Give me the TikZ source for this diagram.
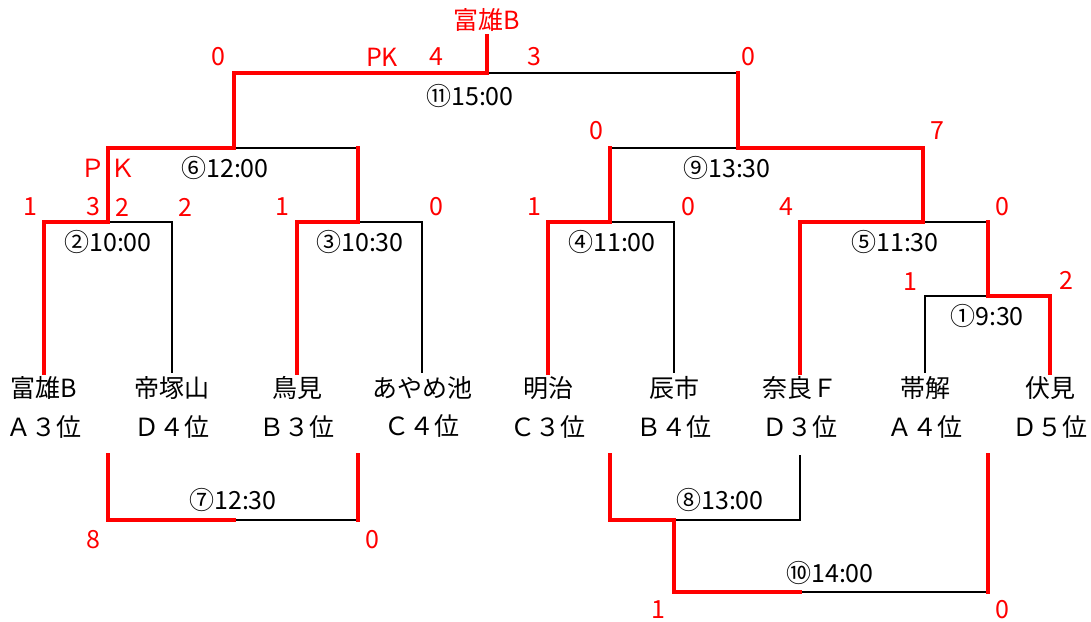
\documentclass[tikz,border=0pt]{standalone}
\usepackage{fontspec}
\setmainfont{Noto Sans CJK JP}
\usetikzlibrary{positioning}

\tikzset{
  win/.style={red, line width=2pt, line cap=rect},
  lose/.style={black, line width=0.9pt},
  team/.style={inner sep=1.5pt},
  score/.style={red, inner sep=0pt},
  tm/.style={inner sep=0pt}
}

\begin{document}
\begin{tikzpicture}[x=0.5pt, y=-0.5pt, font=\fontsize{12.5}{14}\selectfont]
  \useasboundingbox (0,0) rectangle (1091,621);
  % Teams
  \foreach \n/\x/\name/\rank in {1/44/富雄B/Ａ３位, 2/172/帝塚山/Ｄ４位,
      3/297/鳥見/Ｂ３位, 4/422/あやめ池/Ｃ４位, 5/548/明治/Ｃ３位,
      6/674/辰市/Ｂ４位, 7/800/奈良Ｆ/Ｄ３位, 8/925/帯解/Ａ４位, 9/1050/伏見/Ｄ５位} {
    \node[team, anchor=north] (t\n) at (\x,373) {\name};
    \node[team, below=4.5pt of t\n] (r\n) {\rank};
  }
  \node[red, anchor=south, inner sep=2pt] (champ) at (487,36) {富雄B};
  % Joints
  \coordinate (j1) at (988,296);
  \coordinate (j2) at (108,222);
  \coordinate (j3) at (358,222);
  \coordinate (j4) at (610,222);
  \coordinate (j5) at (923,222);
  \coordinate (j6) at (234,148);
  \coordinate (j9) at (738,148);
  \coordinate (j11) at (487,73);
  \coordinate (j7) at (234,520);
  \coordinate (j8) at (674,520);
  \coordinate (j10) at (800,592);
  \coordinate (b1) at (108,455);
  \coordinate (b2) at (358,455);
  \coordinate (b3) at (610,455);
  \coordinate (b4) at (800,455);
  \coordinate (b5) at (988,455);
  % Losers
  \draw[lose] (j2) -| (t2.north);
  \draw[lose] (j3) -| (t4.north);
  \draw[lose] (j4) -| (t6.north);
  \draw[lose] (j5) -- (j1 |- j5);
  \draw[lose] (j1) -| (t8.north);
  \draw[lose] (j6) -- (j3 |- j6);
  \draw[lose] (j9) -- (j4 |- j9);
  \draw[lose] (j11) -- (j9 |- j11);
  \draw[lose] (j7) -- (b2 |- j7);
  \draw[lose] (j8) -| (b4);
  \draw[lose] (j10) -- (b5 |- j10);
  % Winners
  \draw[win] (t1.north) |- (j2) |- (j6) |- (j11) -- (champ.south);
  \draw[win] (t3.north) |- (j3) -- (j3 |- j6);
  \draw[win] (t5.north) |- (j4) -- (j4 |- j9);
  \draw[win] (t9.north) |- (j1) -- (j1 |- j5);
  \draw[win] (t7.north) |- (j5) |- (j9) -- (j9 |- j11);
  \draw[win] (b1) |- (j7);
  \draw[win] (b2) -- (b2 |- j7);
  \draw[win] (b3) |- (j8) |- (j10);
  \draw[win] (b5) -- (b5 |- j10);
  % Match times
  \node[tm] (m1) at (987,316) {①9:30};
  \node[tm] (m2) at (108,242) {②10:00};
  \node[tm] (m3) at (360,242) {③10:30};
  \node[tm] (m4) at (612,242) {④11:00};
  \node[tm] (m5) at (895,242) {⑤11:30};
  \node[tm] (m6) at (225,168) {⑥12:00};
  \node[tm] (m7) at (233,500) {⑦12:30};
  \node[tm] (m8) at (720,500) {⑧13:00};
  \node[tm] (m9) at (727,168) {⑨13:30};
  \node[tm] (m10) at (830,573) {⑩14:00};
  \node[tm] (m11) at (470,96) {⑪15:00};
  % Scores
  \foreach \x/\y/\s [count=\i] in {218/57/0, 382/57/PK, 436/57/4, 534/57/3, 748/57/0,
      108/168/Ｐ\,Ｋ, 596/131/0, 937/131/7,
      30/207/1, 93/207/3, 122/207/2, 185/207/2, 282/207/1, 436/207/0,
      534/207/1, 688/207/0, 786/207/4, 1002/207/0,
      910/282/1, 1066/280/2, 93/540/8, 372/540/0, 658/610/1, 1002/610/0} {
    \node[score] (s\i) at (\x,\y) {\s};
  }
\end{tikzpicture}
\end{document}
